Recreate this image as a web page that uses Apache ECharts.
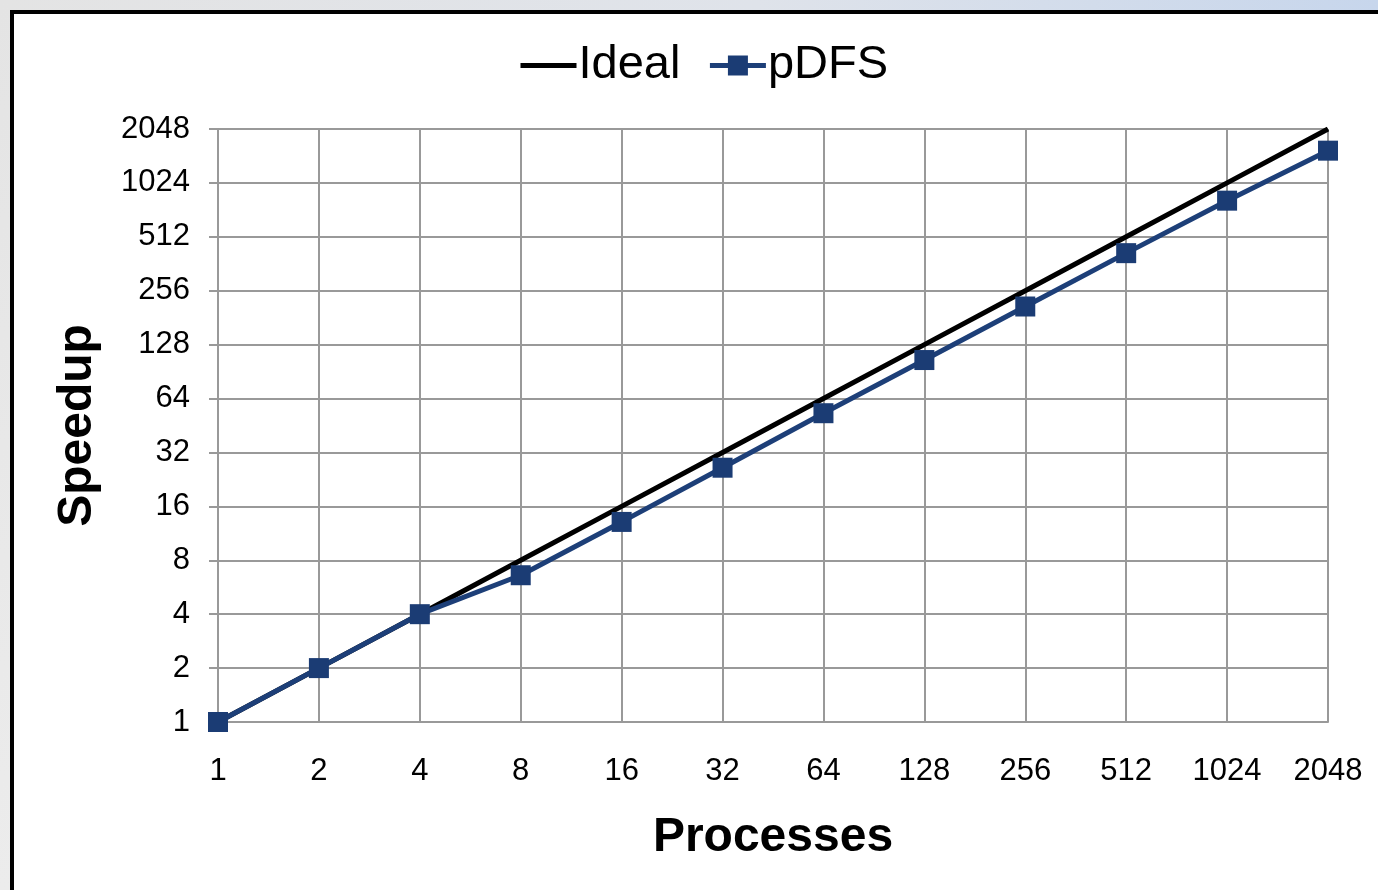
<!DOCTYPE html>
<html>
<head>
<meta charset="utf-8">
<script src="https://cdn.jsdelivr.net/npm/echarts@6/dist/echarts.min.js"></script>
<style>
html,body{margin:0;padding:0;width:1378px;height:890px;overflow:hidden;}
body{background:linear-gradient(90deg,#e4e4e4 0%,#dfe3ea 55%,#c7d6ec 100%);}
#frame{position:absolute;left:10px;top:10px;width:1400px;height:920px;background:#fff;border:4px solid #000;box-sizing:border-box;}
#side{position:absolute;left:0;top:0;width:10px;height:890px;background:linear-gradient(180deg,#e4e4e4,#ececec);}
#chart{position:absolute;left:0;top:0;width:1378px;height:890px;}
</style>
</head>
<body>
<div id="side"></div>
<div id="frame"></div>
<div id="chart"></div>
<script>
const processes = ['1','2','4','8','16','32','64','128','256','512','1024','2048'];
const ideal = [1,2,4,8,16,32,64,128,256,512,1024,2048];
const pdfs = [1,2,4,6.6,13.1,26.3,53,105,209,415,815,1550];

const chart = echarts.init(document.getElementById('chart'));
const FONT = 'Liberation Sans, Arial, sans-serif';
chart.setOption({
  backgroundColor: 'transparent',
  animation: false,
  legend: {
    top: 42,
    left: 518,
    padding: 0,
    itemWidth: 56,
    itemHeight: 25,
    itemGap: 27,
    lineStyle: {width: 5},
    textStyle: {fontFamily: FONT, fontSize: 47, color: '#000', padding: [0,0,0,-3]},
    data: [{name: 'Ideal', itemStyle: {opacity: 0}}, 'pDFS']
  },
  grid: {left: 218, right: 50, top: 129, bottom: 168},
  xAxis: {
    type: 'category',
    data: processes,
    boundaryGap: false,
    name: 'Processes',
    nameLocation: 'middle',
    nameGap: 92,
    nameTextStyle: {fontFamily: FONT, fontSize: 48, fontWeight: 'bold', color: '#000'},
    axisLine: {lineStyle: {color: '#999', width: 2}},
    axisTick: {show: false},
    axisLabel: {fontFamily: FONT, fontSize: 31, color: '#000', margin: 34},
    splitLine: {show: true, lineStyle: {color: '#999', width: 2}}
  },
  yAxis: {
    type: 'log',
    logBase: 2,
    min: 1,
    max: 2048,
    interval: 1,
    name: 'Speedup',
    nameLocation: 'middle',
    nameGap: 116,
    nameTextStyle: {fontFamily: FONT, fontSize: 48, fontWeight: 'bold', color: '#000'},
    axisLine: {show: true, lineStyle: {color: '#999', width: 2}},
    axisTick: {show: true, length: 9, lineStyle: {color: '#999', width: 2}},
    axisLabel: {fontFamily: FONT, fontSize: 31, color: '#000', margin: 28,
      formatter: function (v) { return String(Math.round(v)); }},
    splitLine: {show: true, lineStyle: {color: '#999', width: 2}}
  },
  series: [
    {
      name: 'Ideal',
      type: 'line',
      data: ideal,
      symbol: 'none',
      lineStyle: {color: '#000', width: 5},
      itemStyle: {color: '#000'},
      z: 2
    },
    {
      name: 'pDFS',
      type: 'line',
      data: pdfs,
      symbol: 'rect',
      symbolSize: 20,
      lineStyle: {color: '#1d3f78', width: 5},
      itemStyle: {color: '#1b3c74'},
      clip: false,
      z: 3
    }
  ]
});
</script>
</body>
</html>
